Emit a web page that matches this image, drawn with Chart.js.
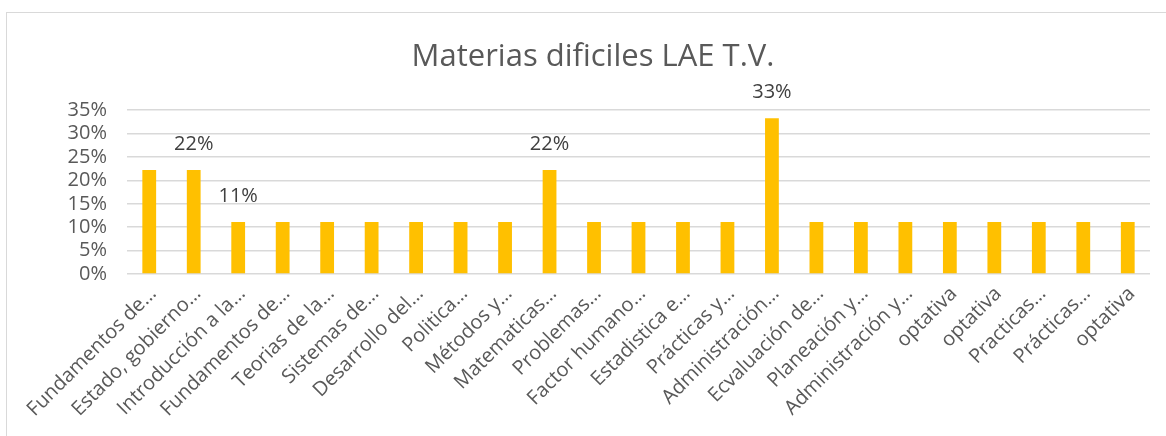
<!DOCTYPE html>
<html>
<head>
<meta charset="utf-8">
<script src="https://cdn.jsdelivr.net/npm/chart.js@4/dist/chart.umd.min.js"></script>
<style>
    body { margin: 0; overflow: hidden; background: #fff; }
    #frame { position: absolute; left: 6px; top: 12px; width: 1200px; height: 500px; border: 1px solid #d9d9d9; }
    #chart { position: absolute; left: 0; top: 0; }
</style>
</head>
<body>
<div id="frame"></div>
<canvas id="chart" width="1166" height="436"></canvas>
<script>
const categories = [
    'Fundamentos de…', 'Estado, gobierno…', 'Introducción a la…', 'Fundamentos de…',
    'Teorias de la…', 'Sistemas de…', 'Desarrollo del…', 'Politica…', 'Métodos y…',
    'Matematicas…', 'Problemas…', 'Factor humano…', 'Estadistica e…', 'Prácticas y…',
    'Administración…', 'Ecvaluación de…', 'Planeación y…', 'Administración y…',
    'optativa', 'optativa', 'Practicas…', 'Prácticas…', 'optativa'
];
const values = [
    22.2, 22.2, 11.1, 11.1, 11.1, 11.1, 11.1, 11.1, 11.1,
    22.2, 11.1, 11.1, 11.1, 11.1,
    33.3, 11.1, 11.1, 11.1,
    11.1, 11.1, 11.1, 11.1, 11.1
];
// only some bars carry a value label in the original
const valueLabels = [
    '', '22%', '11%', '', '', '', '', '', '',
    '22%', '', '', '', '',
    '33%', '', '', '',
    '', '', '', '', ''
];
const yTicks = [0, 5, 10, 15, 20, 25, 30, 35];

const textColor = '#595959';
const fontFamily = '"Open Sans", sans-serif';

const barLabels = {
    id: 'barLabels',
    afterDatasetsDraw(chart) {
        const ctx = chart.ctx;
        const meta = chart.getDatasetMeta(0);
        ctx.save();
        ctx.font = '20px ' + fontFamily;
        ctx.fillStyle = '#404040';
        ctx.textAlign = 'center';
        ctx.textBaseline = 'middle';
        meta.data.forEach((bar, i) => {
            if (valueLabels[i]) {
                ctx.fillText(valueLabels[i], bar.x, bar.y - 26);
            }
        });
        ctx.restore();
    }
};

new Chart(document.getElementById('chart'), {
    type: 'bar',
    data: {
        labels: categories,
        datasets: [{
            data: values,
            backgroundColor: '#ffc000',
            borderWidth: 0,
            barPercentage: 0.31,
            categoryPercentage: 1
        }]
    },
    options: {
        responsive: false,
        animation: false,
        layout: {
            autoPadding: false,
            padding: { left: 36, right: 16, top: 0, bottom: 0 }
        },
        plugins: {
            legend: { display: false },
            tooltip: { enabled: false },
            title: {
                display: true,
                text: 'Materias dificiles LAE T.V.',
                color: textColor,
                font: { family: fontFamily, size: 31, weight: 'normal' },
                padding: { top: 39, bottom: 34 }
            }
        },
        scales: {
            x: {
                grid: { display: false },
                border: { display: false },
                afterFit: (scale) => { scale.height = 162; },
                ticks: {
                    color: textColor,
                    font: { family: fontFamily, size: 20 },
                    minRotation: 45,
                    maxRotation: 45,
                    autoSkip: false,
                    padding: 0,
                    labelOffset: 4
                }
            },
            y: {
                min: 0,
                max: 35,
                afterFit: (scale) => { scale.width = 91; },
                afterBuildTicks: (scale) => { scale.ticks = yTicks.map(v => ({ value: v })); },
                border: { display: false },
                grid: { color: '#d9d9d9', lineWidth: 1.5, drawTicks: false },
                ticks: {
                    color: textColor,
                    font: { family: fontFamily, size: 20 },
                    autoSkip: false,
                    padding: 20,
                    callback: (v) => v + '%'
                }
            }
        }
    },
    plugins: [barLabels]
});
</script>
</body>
</html>
